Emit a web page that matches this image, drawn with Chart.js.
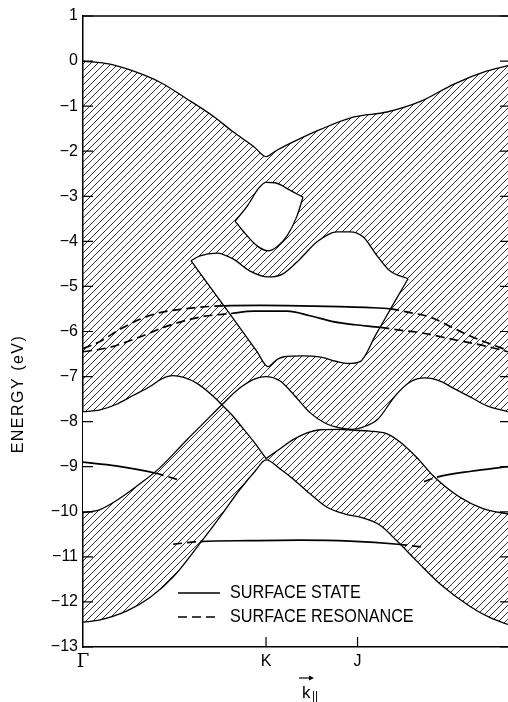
<!DOCTYPE html>
<html lang="en">
<head>
<meta charset="utf-8">
<title>Projected bulk bands and surface states</title>
<script src="https://cdn.jsdelivr.net/npm/chart.js@4.4.1/dist/chart.umd.min.js"></script>
<style>
  body { margin: 0; background: #fff; }
  canvas { display: block; }
</style>
</head>
<body>
<canvas id="bands" width="508" height="702"></canvas>
<script>
// k along the surface zone: Gamma = 0, K = 1, J = 1.5
var kTicks = [0, 1, 1.5];
var kLabels = ['\u0393', 'K', 'J'];

// bulk band edges, energy in eV
var topK = [0, 0.148, 0.273, 0.421, 0.568, 0.710, 0.820, 0.934, 1.0, 1.05, 1.115, 1.301, 1.481, 1.661, 1.847, 2.027, 2.208, 2.322];
var topE = [0, -0.07, -0.22, -0.47, -0.84, -1.22, -1.57, -1.9, -2.12, -2.0, -1.86, -1.51, -1.24, -1.13, -0.89, -0.51, -0.22, -0.1];

var aK = [0, 0.093, 0.18, 0.273, 0.366, 0.43, 0.492, 0.55, 0.623, 0.710, 0.760, 0.820, 0.874, 0.934, 1.0];
var aE = [-7.78, -7.74, -7.62, -7.42, -7.22, -7.05, -6.98, -7.02, -7.15, -7.43, -7.63, -7.88, -8.15, -8.45, -8.82];

var bK = [0, 0.093, 0.202, 0.311, 0.421, 0.568, 0.667, 0.760, 0.858, 0.940, 1.0, 1.077, 1.158, 1.240, 1.322, 1.404, 1.47, 1.53, 1.612, 1.705, 1.787, 1.869, 1.951, 2.033, 2.115, 2.208, 2.322];
var bE = [-10.02, -9.95, -9.7, -9.38, -9.02, -8.4, -8.0, -7.62, -7.25, -7.05, -7.0, -7.1, -7.43, -7.8, -8.03, -8.14, -8.17, -8.12, -7.94, -7.43, -7.12, -7.03, -7.1, -7.28, -7.45, -7.65, -7.78];

var cK = [0, 0.093, 0.240, 0.366, 0.492, 0.639, 0.760, 0.858, 0.940, 1.0, 1.077, 1.148, 1.240, 1.333, 1.432, 1.514, 1.623, 1.716, 1.825, 1.951, 2.115, 2.224, 2.322];
var cE = [-12.45, -12.4, -12.2, -11.9, -11.45, -10.7, -10.05, -9.5, -9.1, -8.85, -9.05, -9.27, -9.6, -9.9, -10.05, -10.12, -10.3, -10.65, -11.1, -11.6, -12.1, -12.35, -12.5];

var dK = [1.0, 1.077, 1.148, 1.224, 1.295, 1.404, 1.47, 1.568, 1.661, 1.732, 1.825, 1.913, 2.049, 2.186, 2.322];
var dE = [-8.82, -8.6, -8.4, -8.25, -8.18, -8.17, -8.19, -8.21, -8.27, -8.45, -8.8, -9.2, -9.65, -9.93, -10.05];

// gaps inside the upper band
var gap1TopK = [0.831, 0.9, 0.96, 1.0, 1.05, 1.12, 1.202];
var gap1TopE = [-3.55, -3.2, -2.82, -2.69, -2.7, -2.84, -3.02];
var gap1BotK = [0.831, 0.874, 0.951, 1.011, 1.06, 1.115, 1.169, 1.202];
var gap1BotE = [-3.55, -3.77, -4.1, -4.21, -4.12, -3.88, -3.44, -3.02];

var gap2TopK = [0.590, 0.639, 0.732, 0.820, 0.913, 1.011, 1.093, 1.186, 1.279, 1.388, 1.459, 1.530, 1.607, 1.678, 1.776];
var gap2TopE = [-4.43, -4.32, -4.26, -4.39, -4.66, -4.79, -4.72, -4.39, -4.01, -3.79, -3.79, -3.9, -4.32, -4.66, -4.83];
var gap2BotK = [0.590, 0.8, 0.95, 1.011, 1.06, 1.098, 1.2, 1.3, 1.38, 1.45, 1.514, 1.6, 1.7, 1.776];
var gap2BotE = [-4.43, -5.6, -6.44, -6.78, -6.62, -6.56, -6.54, -6.57, -6.66, -6.71, -6.67, -6.07, -5.36, -4.83];

// surface features: solid (state) between the two k values in *Solid, dashed (resonance) elsewhere
var ssUpK = [0, 0.093, 0.202, 0.311, 0.421, 0.546, 0.639, 0.77, 0.967, 1.186, 1.404, 1.568, 1.678, 1.787, 1.896, 2.027, 2.115, 2.208, 2.322];
var ssUpE = [-6.38, -6.22, -5.95, -5.73, -5.58, -5.5, -5.46, -5.43, -5.42, -5.43, -5.45, -5.47, -5.5, -5.58, -5.68, -5.93, -6.1, -6.25, -6.42];
var ssUpSolid = [0.77, 1.678];

var ssLowK = [0, 0.148, 0.311, 0.459, 0.639, 0.809, 0.934, 1.115, 1.240, 1.366, 1.486, 1.625, 1.732, 1.847, 2.027, 2.208, 2.322];
var ssLowE = [-6.45, -6.35, -6.12, -5.88, -5.68, -5.6, -5.55, -5.55, -5.65, -5.78, -5.85, -5.91, -5.97, -6.03, -6.18, -6.33, -6.45];
var ssLowSolid = [0.809, 1.625];

var ssMidLK = [0, 0.18, 0.393, 0.53];
var ssMidLE = [-8.9, -8.98, -9.14, -9.3];
var ssMidLSolid = [0, 0.393];

var ssMidRK = [1.863, 1.934, 2.12, 2.322];
var ssMidRE = [-9.33, -9.23, -9.1, -9.0];
var ssMidRSolid = [1.934, 2.322];

var ssBotK = [0.492, 0.64, 0.913, 1.186, 1.459, 1.721, 1.847];
var ssBotE = [-10.72, -10.66, -10.64, -10.63, -10.65, -10.72, -10.78];
var ssBotSolid = [0.64, 1.721];

Chart.defaults.font.family = "'Liberation Sans', Arial, sans-serif";
Chart.defaults.color = '#000';

var canvas = document.getElementById('bands');

// diagonal hatching for the projected bulk bands
var tile = document.createElement('canvas');
tile.width = 7; tile.height = 7;
var tc = tile.getContext('2d');
tc.strokeStyle = '#1a1a1a';
tc.lineWidth = 0.9;
tc.beginPath();
tc.moveTo(0, 7); tc.lineTo(7, 0);
tc.moveTo(-1, 1); tc.lineTo(1, -1);
tc.moveTo(6, 8); tc.lineTo(8, 6);
tc.stroke();
var hatch = canvas.getContext('2d').createPattern(tile, 'repeat');

function pts(ks, es) {
  return ks.map(function(k, i) { return {x: k, y: es[i]}; });
}
function edge(ks, es, extra) {
  var d = {data: pts(ks, es), borderColor: '#000', borderWidth: 1.3, pointRadius: 0,
           fill: false, cubicInterpolationMode: 'monotone', order: 0};
  return Object.assign(d, extra || {});
}
function surface(ks, es, solid) {
  return {
    data: pts(ks, es), borderColor: '#000', borderWidth: 1.7, pointRadius: 0,
    fill: false, cubicInterpolationMode: 'monotone', order: 0,
    segment: {
      borderDash: function(c) {
        var inside = c.p0.parsed.x >= solid[0] - 1e-6 && c.p1.parsed.x <= solid[1] + 1e-6;
        return inside ? [] : [9, 5];
      }
    }
  };
}

var datasets = [
  edge(topK, topE, {fill: {target: 3}, backgroundColor: hatch, order: 2}),
  edge(aK, aE, {fill: {target: 2}, backgroundColor: '#fff', order: 1}),
  edge(bK, bE),
  edge(cK, cE),
  edge(dK, dE, {fill: {target: 2}, backgroundColor: '#fff', order: 1}),
  edge(gap1TopK, gap1TopE, {fill: {target: 6}, backgroundColor: '#fff', order: 1}),
  edge(gap1BotK, gap1BotE),
  edge(gap2TopK, gap2TopE, {fill: {target: 8}, backgroundColor: '#fff', order: 1}),
  edge(gap2BotK, gap2BotE),
  surface(ssUpK, ssUpE, ssUpSolid),
  surface(ssLowK, ssLowE, ssLowSolid),
  surface(ssMidLK, ssMidLE, ssMidLSolid),
  surface(ssMidRK, ssMidRE, ssMidRSolid),
  surface(ssBotK, ssBotE, ssBotSolid)
];

function wideText(ctx, text, x, y, sx) {
  ctx.save();
  ctx.translate(x, y);
  ctx.scale(sx, 1);
  ctx.fillText(text, 0, 0);
  ctx.restore();
}

var extras = {
  id: 'extras',
  afterDraw: function(chart) {
    var ctx = chart.ctx, a = chart.chartArea, xs = chart.scales.x, ys = chart.scales.y;
    ctx.save();
    ctx.strokeStyle = '#000';
    ctx.fillStyle = '#000';
    ctx.lineWidth = 1.5;
    ctx.beginPath();
    ctx.moveTo(a.left, a.top);
    ctx.lineTo(a.right, a.top);
    ctx.stroke();

    // inward tick marks
    ctx.lineWidth = 1.2;
    ctx.beginPath();
    ys.ticks.forEach(function(t) {
      var py = ys.getPixelForValue(t.value);
      ctx.moveTo(a.left, py); ctx.lineTo(a.left + 10, py);
      ctx.moveTo(a.right - 8, py); ctx.lineTo(a.right, py);
    });
    kTicks.slice(1).forEach(function(v) {
      var px = xs.getPixelForValue(v);
      ctx.moveTo(px, a.bottom); ctx.lineTo(px, a.bottom - 10);
    });
    ctx.stroke();

    // legend
    var lx = a.left + 95, ly = a.bottom - 54;
    ctx.lineWidth = 1.7;
    ctx.beginPath();
    ctx.moveTo(lx, ly); ctx.lineTo(lx + 42, ly);
    ctx.stroke();
    ctx.setLineDash([9, 5]);
    ctx.beginPath();
    ctx.moveTo(lx, ly + 24); ctx.lineTo(lx + 42, ly + 24);
    ctx.stroke();
    ctx.setLineDash([]);
    ctx.font = "18px 'Liberation Sans', Arial, sans-serif";
    ctx.textBaseline = 'middle';
    ctx.textAlign = 'left';
    wideText(ctx, 'SURFACE STATE', lx + 52, ly, 0.9);
    wideText(ctx, 'SURFACE RESONANCE', lx + 52, ly + 24, 0.9);

    // energy axis title
    ctx.save();
    ctx.translate(19, 394);
    ctx.rotate(-Math.PI / 2);
    ctx.font = "16px 'Liberation Sans', Arial, sans-serif";
    ctx.letterSpacing = '1.5px';
    ctx.textAlign = 'center';
    ctx.fillText('ENERGY (eV)', 0, 0);
    ctx.restore();

    // k parallel label with arrow
    var kx = 302, kb = 698;
    ctx.font = "17px 'Liberation Sans', Arial, sans-serif";
    ctx.textBaseline = 'alphabetic';
    ctx.fillText('k', kx, kb);
    ctx.font = "12px 'Liberation Sans', Arial, sans-serif";
    ctx.fillText('||', kx + 10, kb + 2);
    ctx.lineWidth = 1.2;
    ctx.beginPath();
    ctx.moveTo(kx - 3, 678); ctx.lineTo(kx + 9, 678);
    ctx.stroke();
    ctx.beginPath();
    ctx.moveTo(kx + 12, 678); ctx.lineTo(kx + 7, 675.5); ctx.lineTo(kx + 7, 680.5);
    ctx.closePath();
    ctx.fill();
    ctx.restore();
  }
};

var bandChart = new Chart(canvas, {
  type: 'line',
  data: {datasets: datasets},
  options: {
    responsive: false,
    animation: false,
    layout: {padding: {top: 16, right: 0, bottom: 0, left: 0}},
    plugins: {
      legend: {display: false},
      tooltip: {enabled: false},
      filler: {drawTime: 'beforeDatasetsDraw', propagate: false}
    },
    scales: {
      x: {
        type: 'linear', min: 0, max: 2.322,
        afterBuildTicks: function(axis) {
          axis.ticks = kTicks.map(function(v) { return {value: v}; });
        },
        afterFit: function(s) { s.height = 55; },
        grid: {display: false, drawTicks: false},
        border: {display: true, color: '#000', width: 1.5},
        ticks: {
          padding: 5, maxRotation: 0, autoSkip: false,
          font: function(c) {
            return c.index === 0 ? {size: 18, family: "'DejaVu Serif', serif"} : {size: 16};
          },
          callback: function(v, i) { return kLabels[i]; }
        }
      },
      y: {
        type: 'linear', min: -13, max: 1,
        afterFit: function(s) { s.width = 83; },
        grid: {display: false, drawTicks: false},
        border: {display: true, color: '#000', width: 1.5},
        ticks: {
          stepSize: 1, padding: 5, autoSkip: false, font: {size: 16},
          callback: function(v) { return v < 0 ? '\u2212' + Math.abs(v) : String(v); }
        }
      }
    }
  },
  plugins: [extras]
});
</script>
</body>
</html>
